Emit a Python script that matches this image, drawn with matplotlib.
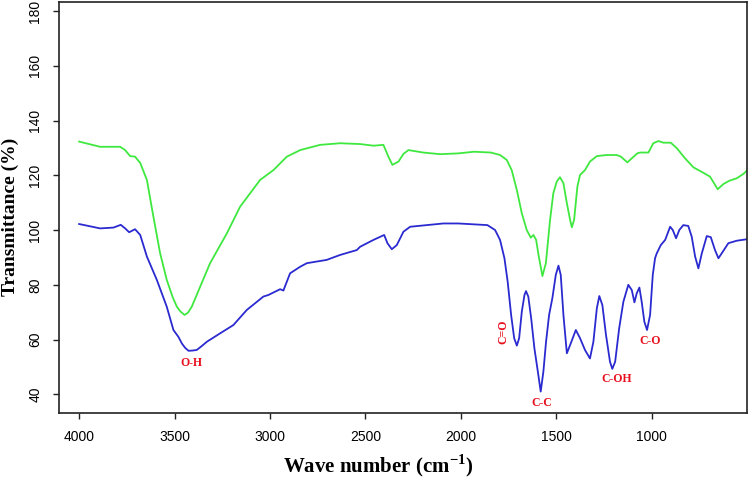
import numpy as np
import matplotlib.pyplot as plt

plt.rcParams['mathtext.fontset'] = 'custom'
plt.rcParams['mathtext.bf'] = 'Liberation Serif:bold'
plt.rcParams['mathtext.rm'] = 'Liberation Serif:bold'

# wave numbers (cm-1) and transmittance (%)
wn_green = [4000, 3890, 3785, 3759, 3733, 3707, 3680, 3645, 3611, 3576, 3541, 3510, 3488, 3470,
            3448, 3430, 3410, 3366, 3314, 3226, 3157, 3052, 2982, 2912, 2842, 2738, 2633, 2528,
            2458, 2406, 2380, 2359, 2327, 2301, 2275, 2197, 2109, 2013, 1931, 1843,
            1795, 1760, 1734, 1707, 1681, 1655, 1634, 1620, 1606, 1592, 1573, 1555, 1533, 1516,
            1498, 1481, 1463, 1445, 1428, 1419, 1407, 1390, 1376, 1350, 1324, 1288, 1236, 1184,
            1162, 1128, 1100, 1076, 1061, 1018, 992, 966, 939, 901, 869, 826, 782, 730, 695,
            674, 655, 625, 594, 555, 520, 503]
t_green = [132.3, 130.4, 130.4, 129.2, 127.0, 126.8, 124.5, 118.3, 104.9, 91.6, 81.8, 75.5, 72.0, 70.3,
           69.0, 69.8, 72.0, 79.3, 87.9, 98.8, 108.5, 118.3, 121.9, 126.8, 129.2, 131.1, 131.7, 131.4,
           130.8, 131.1, 126.8, 123.8, 125.0, 127.8, 129.2, 128.3, 127.7, 128.0, 128.6, 128.3,
           127.4, 125.6, 121.9, 114.6, 106.1, 100.0, 97.2, 98.2, 96.4, 90.3, 83.2, 87.9, 103.7, 113.4,
           117.7, 119.3, 117.1, 109.8, 103.7, 101.0, 103.7, 115.8, 120.1, 121.9, 125.0, 127.0, 127.4, 127.4,
           126.8, 124.7, 126.5, 128.0, 128.3, 128.3, 131.7, 132.5, 131.9, 131.9, 129.9, 126.2, 122.9, 120.9, 119.5,
           117.1, 114.9, 116.8, 118.0, 118.9, 120.5, 121.7]

wn_blue = [4000, 3890, 3820, 3782, 3759, 3738, 3707, 3680, 3645, 3593, 3541, 3506, 3480, 3462,
           3445, 3427, 3405, 3384, 3360, 3331, 3261, 3192, 3122, 3035, 3008, 2947, 2930, 2895,
           2842, 2807, 2703, 2633, 2545, 2528, 2458, 2402, 2385, 2362, 2336, 2301, 2266, 2179,
           2092, 2013, 1861,
           1821, 1795, 1772, 1755, 1737, 1721, 1707, 1695, 1681, 1667, 1659, 1647, 1632, 1615,
           1597, 1582, 1568, 1554, 1538, 1521, 1503, 1489, 1477, 1463, 1445, 1428, 1398, 1376,
           1350, 1324, 1306, 1288, 1275, 1259, 1240, 1219, 1207, 1192, 1171, 1149, 1123, 1105,
           1091, 1079, 1065, 1053, 1039, 1025, 1009, 995, 983, 974, 953, 930, 904, 890, 873,
           856, 835, 809, 791, 773, 756, 738, 712, 691, 669, 651, 628, 599, 555, 506]
t_blue = [102.2, 100.6, 100.9, 101.9, 100.6, 99.2, 100.3, 98.2, 90.3, 81.8, 72.0, 63.5, 61.0, 58.6,
          57.0, 55.9, 56.0, 56.2, 57.5, 59.2, 62.3, 65.3, 70.8, 75.7, 76.3, 78.4, 77.9, 84.2,
          86.6, 87.9, 89.1, 90.9, 92.7, 93.9, 96.4, 98.2, 95.2, 93.0, 94.5, 99.4, 101.2, 101.8,
          102.4, 102.4, 101.8,
          100.0, 96.4, 89.7, 81.1, 69.0, 60.5, 57.8, 60.5, 70.2, 76.3, 77.7, 75.7, 67.8, 56.8,
          48.3, 41.0, 48.3, 59.2, 69.0, 75.1, 83.6, 87.0, 83.6, 69.0, 55.0, 58.0, 63.5, 60.5,
          56.2, 53.1, 59.2, 71.4, 75.9, 72.6, 61.7, 51.9, 49.3, 51.9, 64.1, 73.8, 80.0, 78.1,
          73.6, 76.9, 79.0, 73.8, 66.5, 63.5, 69.0, 83.6, 89.7, 91.5, 94.5, 96.4, 101.2, 100.0, 97.0,
          100.0, 101.8, 101.5, 97.6, 90.3, 86.0, 91.5, 97.8, 97.4, 92.7, 89.7, 92.1, 95.2, 96.1, 96.6]

peak_labels = ['O-H', 'C=O', 'C-C', 'C-OH', 'C-O']
peak_wn = [3410, 1780, 1578, 1184, 1009]
peak_t = [51.6, 62.9, 36.7, 45.5, 59.6]
peak_rot = [0, 90, 0, 0, 0]

x_ticks = [4000, 3500, 3000, 2500, 2000, 1500, 1000]
y_ticks = [40, 60, 80, 100, 120, 140, 160, 180]

fig = plt.figure(figsize=(7.48, 4.83), dpi=100)
ax = fig.add_axes([0.079, 0.145, 0.920, 0.851])

ax.plot(wn_green, t_green, color='#3fe83f', linewidth=1.3)
ax.plot(wn_blue, t_blue, color='#2a2ad0', linewidth=1.3)

for lab, xx, yy, rot in zip(peak_labels, peak_wn, peak_t, peak_rot):
    ax.text(xx, yy, lab, color='#e8101e', fontsize=8.5, fontweight='bold',
            family='Liberation Serif', ha='center', va='center', rotation=rot)

ax.set_xlim(4105, 500)
ax.set_ylim(33.2, 183.3)
ax.set_xticks(x_ticks)
ax.set_yticks(y_ticks)
ax.set_xticklabels([str(v) for v in x_ticks], family='Liberation Sans', fontsize=10)
ax.set_yticklabels([str(v) for v in y_ticks], family='Liberation Sans', fontsize=10,
                   rotation=90, va='center')
ax.tick_params(direction='out', length=4, width=1, pad=8, color='#222222')
for sp in ax.spines.values():
    sp.set_linewidth(1.2)
    sp.set_color('#222222')

fig.text(0.505, 0.035, 'Wave number (cm$^{\\mathbf{-1}}$)', ha='center', va='center',
         fontsize=15, fontweight='bold', family='Liberation Serif')
fig.text(0.014, 0.55, 'Transmittance (%)', ha='center', va='center', rotation=90,
         fontsize=14, fontweight='bold', family='Liberation Serif')

fig.savefig('out.png', dpi=100)
